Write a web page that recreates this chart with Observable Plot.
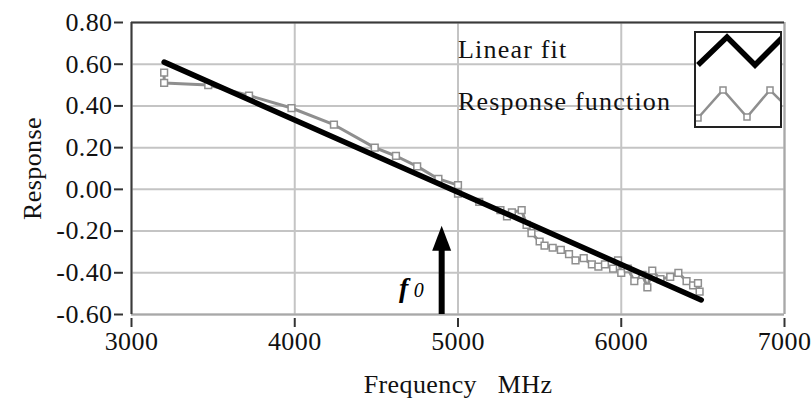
<!DOCTYPE html>
<html><head><meta charset="utf-8">
<script src="https://cdn.jsdelivr.net/npm/d3@7"></script>
<script src="https://cdn.jsdelivr.net/npm/@observablehq/plot@0.6"></script>
<style>
body{margin:0;background:#fff;}
#wrap{position:relative;width:811px;height:400px;}
svg text{letter-spacing:0.4px;}
</style></head><body><div id="wrap"></div>
<script>
// Tick values
const xTicks = [3000, 4000, 5000, 6000, 7000];
const yTicks = [0.8, 0.6, 0.4, 0.2, 0, -0.2, -0.4, -0.6];

// Response function (MHz, response)
const respFreq = [3200, 3200, 3470, 3720, 3980, 4240, 4490, 4620, 4750, 4880, 5000, 5000, 5130, 5260, 5300, 5330, 5390, 5420, 5450, 5500, 5530, 5580, 5630, 5680, 5720, 5770, 5820, 5860, 5900, 5950, 5980, 6000, 6040, 6080, 6130, 6160, 6190, 6240, 6300, 6350, 6400, 6440, 6470, 6480];
const respVal  = [0.56, 0.51, 0.50, 0.45, 0.39, 0.31, 0.20, 0.16, 0.11, 0.05, 0.02, -0.02, -0.06, -0.10, -0.13, -0.11, -0.10, -0.17, -0.21, -0.25, -0.27, -0.28, -0.29, -0.31, -0.34, -0.33, -0.36, -0.37, -0.36, -0.38, -0.34, -0.40, -0.38, -0.44, -0.41, -0.47, -0.39, -0.43, -0.42, -0.40, -0.44, -0.46, -0.45, -0.49];

// Linear fit endpoints
const fitFreq = [3200, 6490];
const fitVal  = [0.61, -0.53];

// f0 marker
const f0 = 4900;
const f0Tip = -0.175;
const f0HeadBase = -0.28;
const f0LabelY = -0.514;

// Legend
const legendLabels = ["Linear fit", "Response function"];

const resp = respFreq.map((f, i) => ({f, v: respVal[i]}));
const fit = fitFreq.map((f, i) => ({f, v: fitVal[i]}));

const arrowHead = {draw(ctx) { ctx.moveTo(0, 0); ctx.lineTo(-9.5, 25); ctx.lineTo(9.5, 25); ctx.closePath(); }};

const chart = Plot.plot({
  width: 811, height: 400,
  marginLeft: 131, marginRight: 27, marginTop: 22, marginBottom: 86,
  style: {fontFamily: "'Liberation Serif','Times New Roman',serif", fontSize: "26px", color: "#111", background: "#fff", overflow: "visible"},
  x: {domain: [3000, 7000]},
  y: {domain: [-0.6, 0.8]},
  marks: [
    Plot.gridX(xTicks, {stroke: "#c4c4c4", strokeOpacity: 1, strokeWidth: 2}),
    Plot.gridY(yTicks, {stroke: "#c4c4c4", strokeOpacity: 1, strokeWidth: 2}),
    Plot.ruleY([yTicks[yTicks.length - 1]], {stroke: "#a8a8a8", strokeWidth: 2}),
    Plot.ruleX([xTicks[xTicks.length - 1]], {stroke: "#a8a8a8", strokeWidth: 2}),
    Plot.ruleY([yTicks[0]], {stroke: "#3a3a3a", strokeWidth: 2}),
    Plot.ruleX([xTicks[0]], {stroke: "#3a3a3a", strokeWidth: 2}),
    Plot.axisX({ticks: xTicks, tickFormat: d => String(d), tickSize: 9, dy: 4, tickPadding: 4, label: null, stroke: "#333", strokeWidth: 2, fill: "#111"}),
    Plot.axisY({ticks: yTicks, tickFormat: d => d.toFixed(2), tickSize: 9, dx: -8, tickPadding: 2, label: null, stroke: "#333", strokeWidth: 2, fill: "#111"}),
    Plot.text(["Response"], {text: d => d, frameAnchor: "left", dx: -99, rotate: -90, textAnchor: "middle", lineAnchor: "middle", fill: "#111", style: "letter-spacing:1.3px"}),
    Plot.text(["Frequency\u00a0\u00a0\u00a0MHz"], {text: d => d, frameAnchor: "bottom", dy: 78, textAnchor: "middle", lineAnchor: "bottom", fill: "#111", style: "letter-spacing:1.5px"}),
    Plot.line(resp, {x: "f", y: "v", stroke: "#8f8f8f", strokeWidth: 3}),
    Plot.dot(resp, {x: "f", y: "v", symbol: "square", r: 3.8, stroke: "#8f8f8f", fill: "#fff", strokeWidth: 1.5}),
    Plot.line(fit, {x: "f", y: "v", stroke: "#000", strokeWidth: 5.5}),
    Plot.ruleX([f0], {x: d => d, y1: yTicks[yTicks.length - 1], y2: f0HeadBase, stroke: "#000", strokeWidth: 6}),
    Plot.dot([f0], {x: d => d, y: f0Tip, symbol: arrowHead, r: 10, fill: "#000", stroke: null}),
    Plot.text([f0], {x: d => d, y: f0LabelY, text: () => "f", dx: -33, textAnchor: "end", lineAnchor: "bottom", fontStyle: "italic", fontWeight: "bold", fontSize: 28, fill: "#000"}),
    Plot.text([f0], {x: d => d, y: f0LabelY, text: () => "0", dx: -28, textAnchor: "start", lineAnchor: "bottom", fontStyle: "italic", fontSize: 20, fill: "#000"})
  ]
});
const wrap = document.getElementById("wrap");
wrap.appendChild(chart);

// Legend overlay
const leg = d3.select(wrap).append("svg")
  .attr("width", 811).attr("height", 400)
  .style("position", "absolute").style("left", "0px").style("top", "0px");
leg.selectAll("text.lab").data(legendLabels).join("text")
  .attr("x", 458).attr("y", (d, i) => i === 0 ? 58 : 110)
  .attr("font-family", "'Liberation Serif','Times New Roman',serif")
  .attr("font-size", 26).attr("fill", "#111").style("letter-spacing", "1.2px").text(d => d);
const box = leg.append("g").attr("transform", "translate(695,32)");
box.append("clipPath").attr("id", "lc").append("rect").attr("x", 1).attr("y", 1).attr("width", 84).attr("height", 93);
box.append("rect").attr("x", 0).attr("y", 0).attr("width", 86).attr("height", 95).attr("fill", "#fff").attr("stroke", "#222").attr("stroke-width", 2);
const zz1 = [[3, 33], [32, 5], [60, 33], [89, 4]];
const zz2 = [[3, 86], [28, 58], [52, 85], [75, 58], [95, 78]];
const g = box.append("g").attr("clip-path", "url(#lc)");
g.append("path").attr("d", d3.line()(zz1)).attr("fill", "none").attr("stroke", "#000").attr("stroke-width", 5.5);
g.append("path").attr("d", d3.line()(zz2)).attr("fill", "none").attr("stroke", "#8f8f8f").attr("stroke-width", 2.5);
g.selectAll("rect.m").data(zz2.slice(0, 4)).join("rect").attr("x", d => d[0] - 3).attr("y", d => d[1] - 3).attr("width", 6).attr("height", 6).attr("fill", "#fff").attr("stroke", "#8f8f8f").attr("stroke-width", 1.5);
</script></body></html>
